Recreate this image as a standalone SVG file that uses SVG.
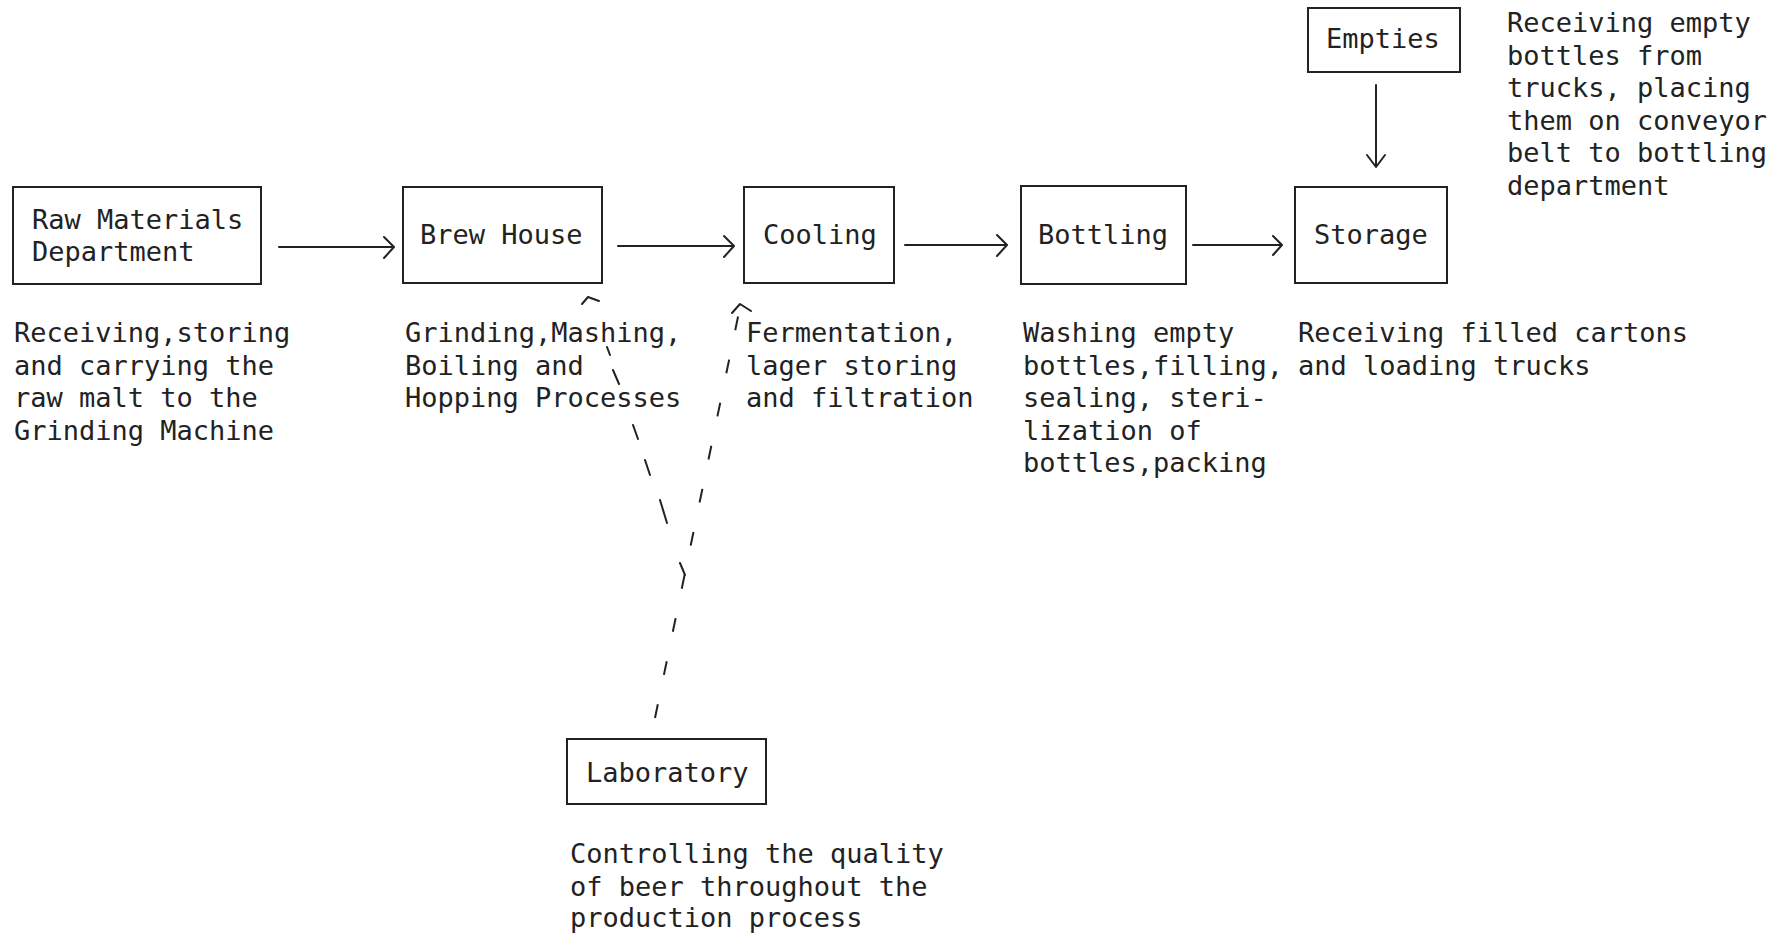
<svg xmlns="http://www.w3.org/2000/svg" width="1787" height="933" viewBox="0 0 1787 933">
<style>
.box{fill:none;stroke:#222;stroke-width:2}
.t{font-family:"DejaVu Sans Mono","Liberation Mono",monospace;font-size:27px;fill:#222}
.c{fill:none;stroke:#222;stroke-width:2;stroke-linecap:round;stroke-linejoin:round}
.d{fill:none;stroke:#222;stroke-width:2;stroke-dasharray:14 30}
</style>
<rect width="1787" height="933" fill="#fff"/>
<g id="raw">
<rect class="box" x="13" y="187" width="248" height="97"/>
<text class="t" x="32" y="229">Raw Materials</text>
<text class="t" x="32" y="261">Department</text>
<text class="t"><tspan x="14" y="342">Receiving,storing</tspan><tspan x="14" y="374.5">and carrying the</tspan><tspan x="14" y="407">raw malt to the</tspan><tspan x="14" y="439.5">Grinding Machine</tspan></text>
</g>
<g id="brew">
<rect class="box" x="403" y="187" width="199" height="96"/>
<text class="t" x="420" y="244">Brew House</text>
<text class="t"><tspan x="405" y="342">Grinding,Mashing,</tspan><tspan x="405" y="374.5">Boiling and</tspan><tspan x="405" y="407">Hopping Processes</tspan></text>
</g>
<g id="cooling">
<rect class="box" x="744" y="187" width="150" height="96"/>
<text class="t" x="763" y="244">Cooling</text>
<text class="t"><tspan x="746" y="342">Fermentation,</tspan><tspan x="746" y="374.5">lager storing</tspan><tspan x="746" y="407">and filtration</tspan></text>
</g>
<g id="bottling">
<rect class="box" x="1021" y="186" width="165" height="98"/>
<text class="t" x="1038" y="244">Bottling</text>
<text class="t"><tspan x="1023" y="342">Washing empty</tspan><tspan x="1023" y="374.5">bottles,filling,</tspan><tspan x="1023" y="407">sealing, steri-</tspan><tspan x="1023" y="439.5">lization of</tspan><tspan x="1023" y="472">bottles,packing</tspan></text>
</g>
<g id="storage">
<rect class="box" x="1295" y="187" width="152" height="96"/>
<text class="t" x="1314" y="244">Storage</text>
<text class="t"><tspan x="1298" y="342">Receiving filled cartons</tspan><tspan x="1298" y="374.5">and loading trucks</tspan></text>
</g>
<g id="empties">
<rect class="box" x="1308" y="8" width="152" height="64"/>
<text class="t" x="1326" y="48">Empties</text>
<text class="t"><tspan x="1507" y="32">Receiving empty</tspan><tspan x="1507" y="64.5">bottles from</tspan><tspan x="1507" y="97">trucks, placing</tspan><tspan x="1507" y="129.5">them on conveyor</tspan><tspan x="1507" y="162">belt to bottling</tspan><tspan x="1507" y="194.5">department</tspan></text>
</g>
<g id="laboratory">
<rect class="box" x="567" y="739" width="199" height="65"/>
<text class="t" x="586" y="782">Laboratory</text>
<text class="t"><tspan x="570" y="863">Controlling the quality</tspan><tspan x="570" y="895.5">of beer throughout the</tspan><tspan x="570" y="927">production process</tspan></text>
</g>
<g id="connectors">
<line class="c" x1="279" y1="247" x2="393" y2="247"/>
<polyline class="c" points="384,237 394,247 384,258"/>
<line class="c" x1="618" y1="246" x2="733" y2="246"/>
<polyline class="c" points="724,236 734,246 724,257"/>
<line class="c" x1="905" y1="245" x2="1006" y2="245"/>
<polyline class="c" points="997,235 1007,245 997,256"/>
<line class="c" x1="1193" y1="245" x2="1281" y2="245"/>
<polyline class="c" points="1273,236 1282,245 1273,255"/>
<line class="c" x1="1376" y1="85" x2="1376" y2="166"/>
<polyline class="c" points="1367,155 1376,167 1385,155"/>
<line class="d" x1="655" y1="718" x2="739" y2="312"/>
<polyline class="c" points="732,313 740,304 751,311"/>
<path class="c" d="M680,563 L685,575 M660,500 L667,523 M645,460 L650,475 M633,425 L638,439 M613,370 L619,384 M607,347 L610,355"/>
<polyline class="c" points="582,304 588,297 599,301"/>
</g>
</svg>
